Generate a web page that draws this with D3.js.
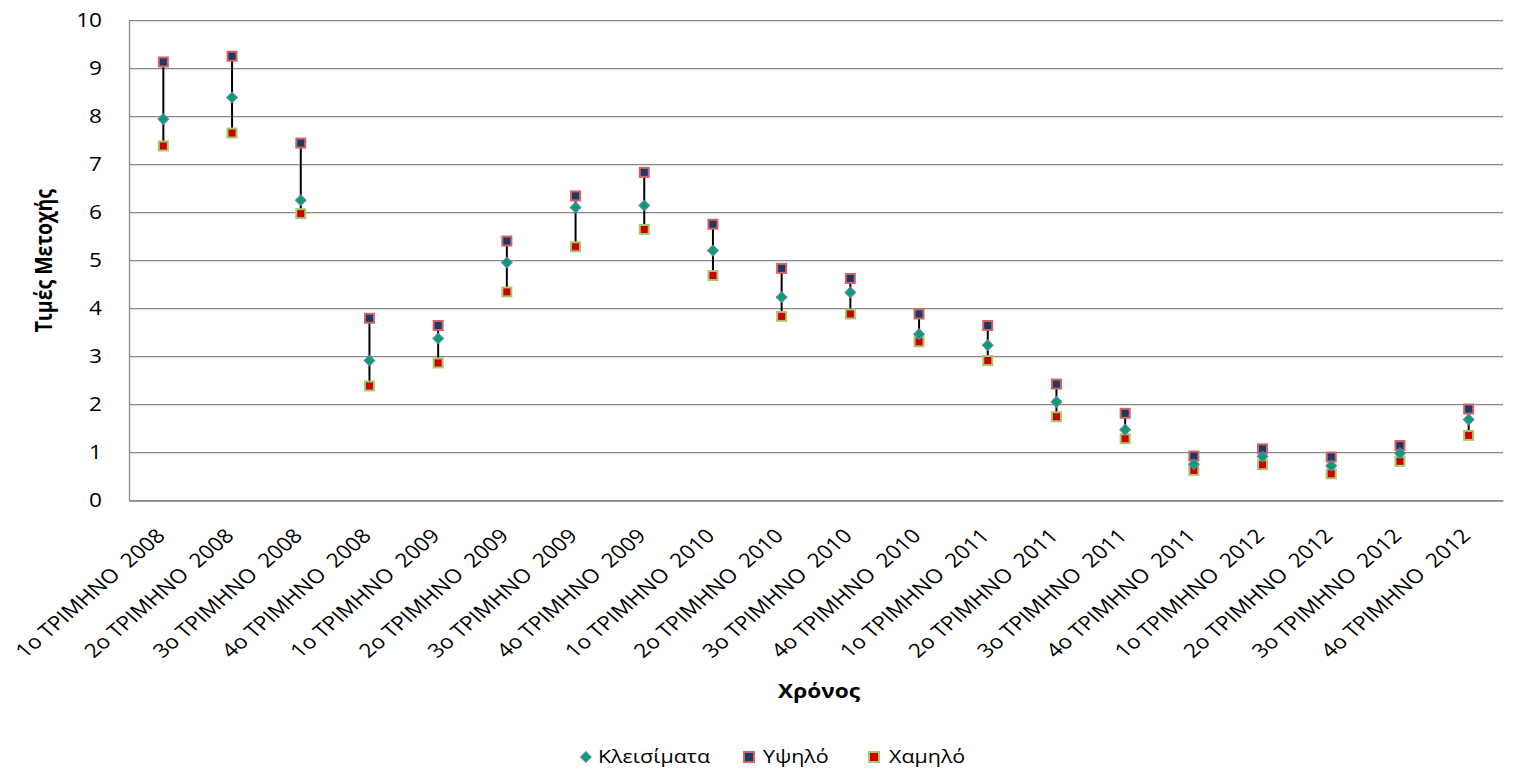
<!DOCTYPE html>
<html>
<head>
<meta charset="utf-8">
<script src="https://cdn.jsdelivr.net/npm/d3@7"></script>
<style>
  html, body { margin: 0; padding: 0; background: #fff; }
  svg { display: block; }
  text { font-family: "Open Sans", "Noto Sans", sans-serif; fill: #000; }
</style>
</head>
<body>
<svg id="chart" width="1531" height="769"></svg>
<script>
const categories = [
  "1ο ΤΡΙΜΗΝΟ  2008", "2ο ΤΡΙΜΗΝΟ  2008", "3ο ΤΡΙΜΗΝΟ  2008", "4ο ΤΡΙΜΗΝΟ  2008",
  "1ο ΤΡΙΜΗΝΟ  2009", "2ο ΤΡΙΜΗΝΟ  2009", "3ο ΤΡΙΜΗΝΟ  2009", "4ο ΤΡΙΜΗΝΟ  2009",
  "1ο ΤΡΙΜΗΝΟ  2010", "2ο ΤΡΙΜΗΝΟ  2010", "3ο ΤΡΙΜΗΝΟ  2010", "4ο ΤΡΙΜΗΝΟ  2010",
  "1ο ΤΡΙΜΗΝΟ  2011", "2ο ΤΡΙΜΗΝΟ  2011", "3ο ΤΡΙΜΗΝΟ  2011", "4ο ΤΡΙΜΗΝΟ  2011",
  "1ο ΤΡΙΜΗΝΟ  2012", "2ο ΤΡΙΜΗΝΟ  2012", "3ο ΤΡΙΜΗΝΟ  2012", "4ο ΤΡΙΜΗΝΟ  2012"
];
const closeValues = [7.95, 8.40, 6.26, 2.92, 3.38, 4.96, 6.11, 6.15, 5.21, 4.24,
                     4.34, 3.47, 3.24, 2.06, 1.48, 0.76, 0.92, 0.73, 0.99, 1.69];
const highValues  = [9.14, 9.26, 7.45, 3.80, 3.65, 5.41, 6.35, 6.84, 5.76, 4.84,
                     4.63, 3.89, 3.65, 2.43, 1.82, 0.93, 1.08, 0.91, 1.15, 1.91];
const lowValues   = [7.39, 7.66, 5.98, 2.39, 2.87, 4.35, 5.29, 5.65, 4.69, 3.84,
                     3.89, 3.31, 2.92, 1.75, 1.29, 0.63, 0.75, 0.56, 0.82, 1.36];
const yTicks = [0, 1, 2, 3, 4, 5, 6, 7, 8, 9, 10];
const seriesNames = ["Κλεισίματα", "Υψηλό", "Χαμηλό"];
const yTitle = "Τιμές Μετοχής";
const xTitle = "Χρόνος";

const svg = d3.select("#chart");
const plot = { left: 129, right: 1503, top: 20.7, bottom: 500.7 };
const SX = 1.16;      // horizontal stretch of the lettering in the reference
const FS = 19.5;      // font size

const x = d3.scaleBand().domain(categories).range([plot.left, plot.right]);
const y = d3.scaleLinear().domain([0, 10]).range([plot.bottom, plot.top]);

const colors = {
  gridline: "#898989",
  highFill: "#1F3864", highStroke: "#D06464",
  lowFill: "#CC0000", lowStroke: "#A8C96A",
  closeFill: "#00A651", closeStroke: "#4F81BD"
};

// gridlines
svg.append("g")
  .selectAll("line").data(yTicks).join("line")
  .attr("x1", plot.left).attr("x2", plot.right)
  .attr("y1", d => y(d)).attr("y2", d => y(d))
  .attr("stroke", colors.gridline).attr("stroke-width", 1.3);

// y axis
const yAxis = svg.append("g")
  .attr("transform", `translate(${plot.left},0)`)
  .call(d3.axisLeft(y).tickValues(yTicks).tickSize(0).tickPadding(27).tickFormat(d3.format("d")));
yAxis.select(".domain").attr("stroke", colors.gridline).attr("stroke-width", 1.3);
yAxis.selectAll(".tick text")
  .attr("font-size", FS).attr("font-family", "Open Sans").attr("fill", "#000")
  .attr("x", 0).attr("transform", `translate(-27,0) scale(${SX},1)`);

// x axis
const xAxis = svg.append("g")
  .attr("transform", `translate(0,${plot.bottom})`)
  .call(d3.axisBottom(x).tickSize(0).tickFormat(""));
xAxis.select(".domain").attr("stroke", colors.gridline).attr("stroke-width", 1.3);

svg.append("g").selectAll("text").data(categories).join("text")
  .attr("transform", d => `translate(${x(d) + x.bandwidth() / 2 + 3},${plot.bottom + 36.5}) scale(${SX},1) rotate(-45)`)
  .attr("text-anchor", "end")
  .attr("font-size", FS)
  .style("white-space", "pre")
  .text(d => d);

// hi-lo lines
const idx = d3.range(categories.length);
const cx = i => x(categories[i]) + x.bandwidth() / 2;
svg.append("g").selectAll("line").data(idx).join("line")
  .attr("x1", cx).attr("x2", cx)
  .attr("y1", i => y(highValues[i])).attr("y2", i => y(lowValues[i]))
  .attr("stroke", "#000").attr("stroke-width", 2);

const sq = 9;
// high markers
svg.append("g").selectAll("rect").data(idx).join("rect")
  .attr("x", i => cx(i) - sq / 2).attr("y", i => y(highValues[i]) - sq / 2)
  .attr("width", sq).attr("height", sq)
  .attr("fill", colors.highFill).attr("stroke", colors.highStroke).attr("stroke-width", 2);
// low markers
svg.append("g").selectAll("rect").data(idx).join("rect")
  .attr("x", i => cx(i) - sq / 2).attr("y", i => y(lowValues[i]) - sq / 2)
  .attr("width", sq).attr("height", sq)
  .attr("fill", colors.lowFill).attr("stroke", colors.lowStroke).attr("stroke-width", 2);
// close markers (diamond)
const diamond = d3.symbol().type(d3.symbolSquare).size(50);
svg.append("g").selectAll("path").data(idx).join("path")
  .attr("d", diamond)
  .attr("transform", i => `translate(${cx(i)},${y(closeValues[i])}) rotate(45)`)
  .attr("fill", colors.closeFill).attr("stroke", colors.closeStroke).attr("stroke-width", 1.5);

// axis titles
svg.append("text")
  .attr("transform", `translate(52,${(plot.top + plot.bottom) / 2}) scale(${SX},1) rotate(-90)`)
  .attr("text-anchor", "middle").attr("font-size", FS).attr("font-weight", "bold")
  .text(yTitle);
svg.append("text")
  .attr("transform", `translate(${(plot.left + plot.right) / 2 + 3},698) scale(${SX},1)`)
  .attr("text-anchor", "middle").attr("font-size", FS).attr("font-weight", "bold")
  .text(xTitle);

// legend
const legendY = 757;
const LFS = 18.5;
const lg = svg.append("g");
function legendText(name, tx) {
  return lg.append("text")
    .attr("transform", `translate(${tx},${legendY + 6}) scale(${SX},1)`)
    .attr("font-size", LFS).text(name);
}
// Κλεισίματα: text ends at 710
const t0 = legendText(seriesNames[0], 0);
const w0 = t0.node().getComputedTextLength() * SX;
const tx0 = 710 - w0;
t0.attr("transform", `translate(${tx0},${legendY + 6}) scale(${SX},1)`);
lg.append("path").attr("d", diamond)
  .attr("transform", `translate(${tx0 - 12},${legendY}) rotate(45)`)
  .attr("fill", colors.closeFill).attr("stroke", colors.closeStroke).attr("stroke-width", 1.5);
// Υψηλό
lg.append("rect").attr("x", 749 - 5).attr("y", legendY - 5).attr("width", 10).attr("height", 10)
  .attr("fill", colors.highFill).attr("stroke", colors.highStroke).attr("stroke-width", 2);
legendText(seriesNames[1], 763);
// Χαμηλό
lg.append("rect").attr("x", 874 - 5).attr("y", legendY - 5).attr("width", 10).attr("height", 10)
  .attr("fill", colors.lowFill).attr("stroke", colors.lowStroke).attr("stroke-width", 2);
legendText(seriesNames[2], 889);
</script>
</body>
</html>
